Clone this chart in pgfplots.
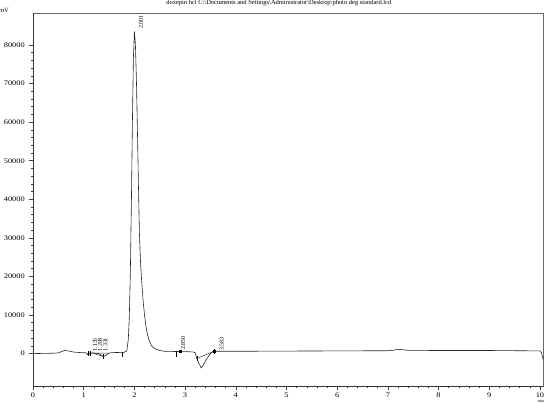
\documentclass[border=0pt]{standalone}
\usepackage{fontspec}
\setmainfont{Liberation Serif}
\usepackage{pgfplots}
\pgfplotsset{compat=1.18}

\begin{document}
\begin{tikzpicture}
\begin{axis}[
    scale only axis,
    width=510bp, height=373bp,
    xmin=0, xmax=10.06, ymin=-8400, ymax=88300,
    xtick={0,1,...,10},
    ytick={0,10000,...,80000},
    minor x tick num=4, minor y tick num=4,
    tick align=outside,
    xtick pos=left, ytick pos=left,
    major tick length=4bp, minor tick length=2bp,
    scaled y ticks=false,
    /pgf/number format/assume math mode=true,
    yticklabel style={/pgf/number format/1000 sep={}, font=\fontsize{7}{8}\selectfont, xscale=1.2},
    xticklabel style={font=\fontsize{7}{8}\selectfont, xscale=1.2, yshift=1bp},
    axis line style={black!60, line width=0.5pt},
    tick style={black!75, line width=0.5pt},
    clip=false
]
\coordinate (bl) at (rel axis cs:0,0);
\coordinate (tr) at (rel axis cs:1,1);
% darker left and bottom spines
\draw[black!80, line width=0.9pt] (rel axis cs:0,1) -- (rel axis cs:0,0) -- (rel axis cs:1,0);

% chromatogram trace
\addplot[black!85, line width=0.6pt] coordinates {
(0,0) (0.2,50) (0.4,100) (0.5,200) (0.55,450) (0.62,800) (0.7,700) (0.8,400) (0.95,250)
(1.05,200) (1.08,-300) (1.1,300) (1.12,-200) (1.15,200) (1.2,150) (1.3,0) (1.38,-700)
(1.42,-600) (1.5,100) (1.55,250) (1.7,300) (1.8,350) (1.85,700) (1.88,3700) (1.90,9500)
(1.92,20800) (1.94,38200) (1.96,59000) (1.98,76500) (2.00,83500) (2.02,80200) (2.04,71000)
(2.06,57800) (2.08,43500) (2.10,31000) (2.12,24000) (2.14,19500) (2.17,14000) (2.20,10000)
(2.24,6000) (2.28,3800) (2.34,2000) (2.40,1300) (2.50,800) (2.6,600) (2.8,550) (3.0,500)
(3.15,450) (3.2,200) (3.23,-1200) (3.27,-2500) (3.32,-3700) (3.36,-3000) (3.42,-1500)
(3.5,0) (3.55,500) (3.6,600) (4,600) (5,650) (6,700) (7,750) (7.1,850) (7.2,1100)
(7.3,1000) (7.4,850) (8,800) (9,800) (10,700) (10.03,200) (10.06,-1500)
};
% integration baselines
\addplot[black!80, line width=0.5pt] coordinates {(3.23,-1300) (3.55,500)};
\addplot[black!80, line width=0.5pt] coordinates {(1.15,200) (1.38,-700)};
\addplot[black!80, line width=0.5pt] coordinates {(1.2,150) (1.5,100)};
% peak start/end markers
\addplot[only marks, mark=|, mark size=2.5bp, black] coordinates {
(1.08,0) (1.12,0) (1.38,-700) (1.76,-300) (2.83,-300) (3.23,-1300) (3.58,600)};
\addplot[only marks, mark=square*, mark size=1bp, black] coordinates {(2.9,500) (3.58,600)};

% retention time labels
\tikzset{rt/.style={rotate=90, anchor=west, inner sep=0pt, font=\fontsize{6}{6}\selectfont}}
\node[rt] at (axis cs:2.13,84200) {2.001};
\node[rt] at (axis cs:2.96,1000) {2.850};
\node[rt] at (axis cs:3.72,700) {3.583};
\node[rt] at (axis cs:1.22,500) {1.135};
\node[rt] at (axis cs:1.32,500) {1.208};
\node[rt] at (axis cs:1.43,500) {1.331};

% title and units
\node[font=\fontsize{6.5}{7}\selectfont, anchor=south] at ([yshift=4bp]rel axis cs:0.482,1)
  {doxepin hcl C:\textbackslash Documents and Settings\textbackslash Administrator\textbackslash Desktop\textbackslash photo deg standard.lcd};
\node[font=\fontsize{6.5}{7}\selectfont] at ([xshift=-29bp,yshift=3bp]rel axis cs:0,1) {mV};
\node[font=\fontsize{4}{4}\selectfont] at ([xshift=-2bp,yshift=-15.5bp]rel axis cs:1,0) {min};
\end{axis}
\pgfresetboundingbox
\path ([shift={(-33bp,-17bp)}]bl) rectangle ([shift={(7bp,13bp)}]tr);
\end{tikzpicture}
\end{document}
